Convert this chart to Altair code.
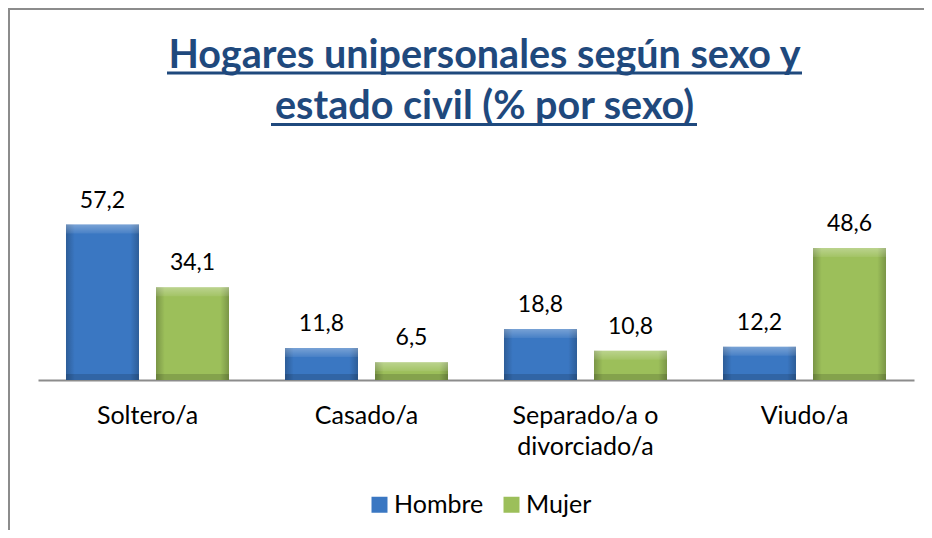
import altair as alt
import pandas as pd

# ---- data ----
categories = ["Soltero/a", "Casado/a", "Separado/a o divorciado/a", "Viudo/a"]
series = ["Hombre", "Mujer"]
hombre = [57.2, 11.8, 18.8, 12.2]
mujer = [34.1, 6.5, 10.8, 48.6]
title_lines = ["Hogares unipersonales según sexo y", "estado civil (% por sexo)"]

rows = []
for c, h, m in zip(categories, hombre, mujer):
    rows.append({"categoria": c, "sexo": series[0], "valor": h})
    rows.append({"categoria": c, "sexo": series[1], "valor": m})
df = pd.DataFrame(rows)
one = pd.DataFrame({"a": [0]})

FONT = "Lato"
W, H = 876, 163

x_enc = alt.X(
    "categoria:N",
    sort=categories,
    scale=alt.Scale(paddingInner=0, paddingOuter=0),
    axis=alt.Axis(
        title=None,
        labelAngle=0,
        labelFont=FONT,
        labelFontSize=25,
        labelColor="black",
        labelPadding=23,
        labelLineHeight=31,
        labelExpr="datum.label == 'Separado/a o divorciado/a' ? ['Separado/a o', 'divorciado/a'] : datum.label",
        ticks=False,
        tickSize=0,
        domainColor="#8c8c8c",
        domainWidth=2,
        grid=False,
    ),
)
xo_enc = alt.XOffset(
    "sexo:N", sort=series, scale=alt.Scale(paddingInner=0.189, paddingOuter=0.311)
)
y_enc = alt.Y("valor:Q", scale=alt.Scale(domain=[0, 60]), axis=None)

base = alt.Chart(df)

bars = base.mark_bar().encode(
    x=x_enc,
    xOffset=xo_enc,
    y=y_enc,
    color=alt.Color(
        "sexo:N",
        sort=series,
        scale=alt.Scale(domain=series, range=["#3A77C2", "#9CBF5A"]),
        legend=alt.Legend(
            orient="none",
            legendX=329,
            legendY=275,
            direction="horizontal",
            title=None,
            symbolType="square",
            symbolSize=256,
            symbolStrokeWidth=0,
            labelFont=FONT,
            labelFontSize=25,
            labelColor="black",
            labelOffset=2,
            columnPadding=15,
            padding=0,
        ),
    ),
)

side_shade = base.mark_bar(
    color=alt.Gradient(
        gradient="linear",
        x1=0, y1=0, x2=1, y2=0,
        stops=[
            alt.GradientStop(color="rgba(0,0,0,0.22)", offset=0),
            alt.GradientStop(color="rgba(0,0,0,0.0)", offset=0.12),
            alt.GradientStop(color="rgba(0,0,0,0.0)", offset=0.88),
            alt.GradientStop(color="rgba(0,0,0,0.22)", offset=1),
        ],
    )
).encode(x=x_enc, xOffset=xo_enc, y=y_enc)

top_hi = base.mark_tick(
    color=alt.Gradient(
        gradient="linear",
        x1=0, y1=0, x2=0, y2=1,
        stops=[
            alt.GradientStop(color="rgba(255,255,255,0.45)", offset=0),
            alt.GradientStop(color="rgba(255,255,255,0.1)", offset=1),
        ],
    ),
    thickness=9, size=73, yOffset=4.5
).encode(x=x_enc, xOffset=xo_enc, y=y_enc)

bottom_dark = base.mark_tick(
    color="black", opacity=0.15, thickness=6, size=73, yOffset=-3
).encode(x=x_enc, xOffset=xo_enc, y=alt.Y("zero:Q", scale=alt.Scale(domain=[0, 60]), axis=None)).transform_calculate(zero="0")

labels = base.mark_text(
    font=FONT, fontSize=23, color="black", baseline="alphabetic", dy=-17
).transform_calculate(
    lab="replace(format(datum.valor, '.1f'), '.', ',')"
).encode(x=x_enc, xOffset=xo_enc, y=y_enc, text="lab:N")

TITLE_X = 446.5
TITLE_SIZE = 39.5
title1 = alt.Chart(pd.DataFrame({"t": [title_lines[0]]})).mark_text(
    font=FONT, fontSize=TITLE_SIZE, fontWeight="bold", color="#1F497D", align="center", baseline="alphabetic"
).encode(text="t:N", x=alt.value(TITLE_X), y=alt.value(-149.5))
title2 = alt.Chart(pd.DataFrame({"t": [title_lines[1]]})).mark_text(
    font=FONT, fontSize=TITLE_SIZE, fontWeight="bold", color="#1F497D", align="center", baseline="alphabetic"
).encode(text="t:N", x=alt.value(TITLE_X), y=alt.value(-98))

ul1 = alt.Chart(one).mark_rule(color="#1F497D", strokeWidth=3).encode(
    x=alt.value(129), x2=alt.value(764), y=alt.value(-144)
)
ul2 = alt.Chart(one).mark_rule(color="#1F497D", strokeWidth=3).encode(
    x=alt.value(233), x2=alt.value(659), y=alt.value(-92.5)
)

border_left = alt.Chart(one).mark_rule(color="#8c8c8c", strokeWidth=2).encode(
    x=alt.value(-29), y=alt.value(-209), y2=alt.value(330)
)
border_top = alt.Chart(one).mark_rule(color="#8c8c8c", strokeWidth=2).encode(
    x=alt.value(-30), x2=alt.value(900), y=alt.value(-208)
)

chart = alt.layer(
    border_left, border_top, bars, side_shade, top_hi, bottom_dark, labels,
    title1, title2, ul1, ul2,
).properties(
    width=W,
    height=H,
    padding={"left": 30, "top": 209, "right": 10, "bottom": 150},
    autosize=alt.AutoSizeParams(type="none"),
).configure_view(stroke=None)

chart.save("out.html", embed_options={"renderer": "svg", "actions": False})
